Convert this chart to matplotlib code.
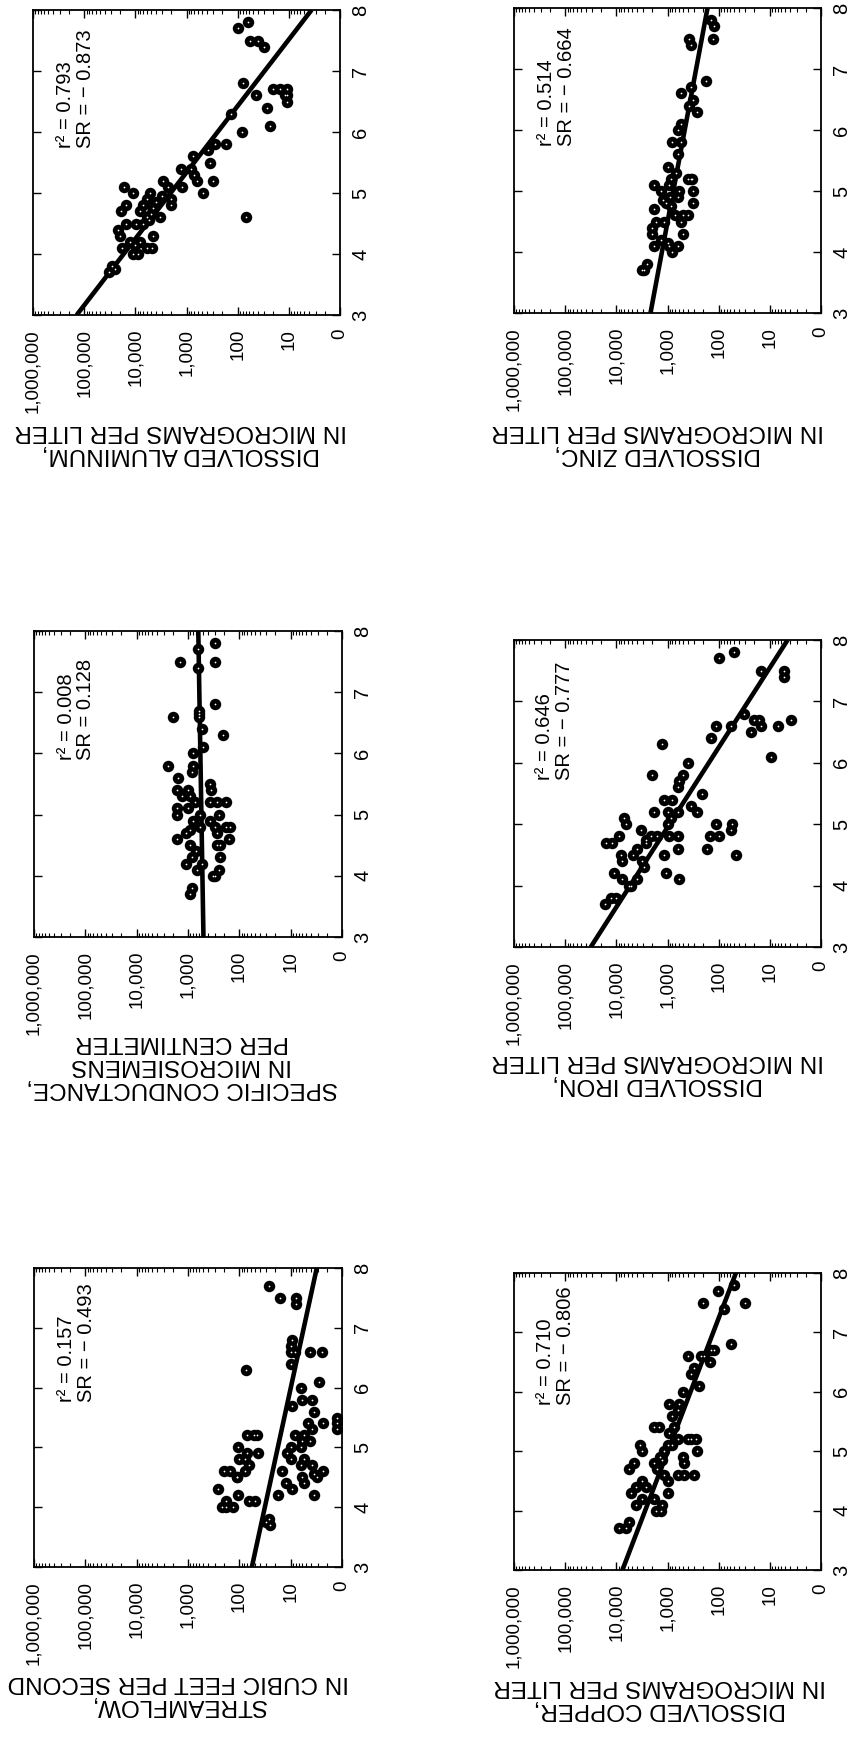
import matplotlib
matplotlib.use('Agg')
import matplotlib.pyplot as plt
from matplotlib.ticker import FixedLocator, LogLocator, NullFormatter

plt.rcParams['font.family'] = ['Liberation Sans', 'DejaVu Sans']

# ---------------- data ----------------
conc_ticks = [1, 10, 100, 1000, 10000, 100000, 1000000]
conc_labels = ['0', '10', '100', '1,000', '10,000', '100,000', '1,000,000']
ph_ticks = [3, 4, 5, 6, 7, 8]
ph_labels = ['3', '4', '5', '6', '7', '8']
line_ph = [3.0, 8.0]

al_ph = [7.8, 7.7, 7.5, 7.5, 7.4, 6.8, 6.7, 6.7, 6.7, 6.6, 6.5, 6.6, 6.6, 6.4, 6.1, 6.3, 6.0, 5.8,
         5.8, 5.7, 5.5, 5.6, 5.2, 5.0, 5.2, 5.3, 5.4, 5.4, 5.1, 4.9, 4.8, 5.2, 5.1, 4.6, 4.75, 5.0,
         4.9, 4.8, 4.7, 4.3, 4.1, 4.1, 4.0, 5.0, 5.1, 4.8, 4.7, 4.5, 4.5, 4.4, 4.3, 4.2, 4.1, 4.15,
         3.8, 3.75, 3.7, 4.6, 4.5, 4.85, 4.95, 4.65, 4.55, 4.2, 4.0, 4.6]
al_val = [62, 97, 57, 40, 30, 80, 20, 15, 11, 11, 11, 12, 43, 27, 23, 132, 83, 166,
          280, 380, 355, 740, 300, 470, 630, 700, 800, 1260, 1200, 2000, 2000, 2900, 2300, 3300, 4500, 5200,
          6000, 7000, 8000, 4500, 4800, 6000, 9000, 11000, 17000, 15000, 19000, 15000, 9500, 22000, 20000, 12600, 18600, 10000,
          29000, 25000, 32000, 6000, 7000, 4000, 3000, 5000, 5500, 8000, 11000, 70]
al_line = [140000, 3.6]
al_stats = 'r\u00b2 = 0.793\nSR = \u2212 0.873'

zn_ph = [7.8, 7.7, 7.5, 7.5, 7.4, 6.8, 6.6, 6.7, 6.5, 6.4, 6.3, 6.1, 6.0, 5.8, 5.8, 5.6, 5.4, 5.3,
         5.2, 5.2, 5.2, 5.2, 5.0, 5.0, 5.1, 4.8, 4.6, 4.6, 4.9, 4.75, 4.8, 5.0, 5.1, 4.85, 4.7, 4.5,
         4.5, 4.5, 4.3, 4.1, 4.0, 4.1, 4.15, 4.2, 4.1, 4.3, 4.4, 3.7, 3.7, 3.8, 4.6, 4.9]
zn_val = [142, 123, 131, 380, 350, 178, 550, 340, 320, 380, 260, 550, 630, 800, 550, 630, 1000, 690,
          330, 350, 400, 850, 320, 590, 930, 320, 400, 500, 630, 850, 1070, 1350, 1800, 1200, 1800, 1700,
          1170, 550, 500, 630, 800, 930, 1000, 1350, 1800, 2000, 2000, 2900, 3100, 2500, 700, 900]
zn_line = [2150, 165]
zn_stats = 'r\u00b2 = 0.514\nSR = \u2212 0.664'

sc_ph = [7.8, 7.7, 7.5, 7.5, 7.4, 6.8, 6.7, 6.65, 6.6, 6.6, 6.4, 6.3, 6.1, 6.0, 5.8, 5.8, 5.7, 5.6,
         5.5, 5.4, 5.4, 5.4, 5.3, 5.3, 5.2, 5.2, 5.2, 5.2, 5.1, 5.0, 5.0, 5.0, 4.9, 4.8, 4.8, 4.8,
         4.8, 4.75, 4.7, 4.7, 4.6, 4.6, 4.5, 4.5, 4.5, 4.4, 4.3, 4.3, 4.2, 4.2, 4.1, 4.1, 4.0, 4.0,
         3.8, 3.7, 4.9, 5.1]
sc_val = [295, 630, 295, 1440, 630, 295, 600, 600, 600, 2000, 540, 204, 500, 800, 2400, 800, 850, 1550,
          370, 350, 1650, 980, 1300, 900, 370, 275, 180, 720, 1650, 250, 1650, 590, 370, 150, 180, 295,
          590, 900, 1070, 275, 160, 1650, 900, 240, 270, 700, 240, 850, 1070, 540, 680, 250, 320, 300,
          850, 900, 800, 1000]
sc_line = [500, 630]
sc_stats = 'r\u00b2 = 0.008\nSR = 0.128'

fe_ph = [7.8, 7.7, 7.5, 7.5, 7.4, 6.8, 6.7, 6.7, 6.7, 6.6, 6.6, 6.6, 6.6, 6.5, 6.4, 6.1, 6.3, 6.0,
         5.8, 5.7, 5.6, 5.8, 5.5, 5.3, 5.2, 5.4, 5.4, 5.2, 5.2, 5.2, 5.1, 5.0, 5.0, 5.0, 4.8, 4.8,
         4.9, 4.6, 4.5, 4.8, 4.8, 4.8, 4.8, 4.5, 4.6, 4.7, 4.75, 4.9, 4.6, 4.5, 4.4, 4.3, 4.1, 4.2,
         4.1, 5.1, 5.0, 4.8, 4.7, 4.7, 4.5, 4.4, 4.2, 4.1, 4.0, 4.0, 3.8, 3.8, 3.7]
fe_val = [50, 98, 15, 5.2, 5.2, 32, 20, 16, 3.9, 15, 7, 58, 112, 23, 140, 9.5, 1260, 400,
          500, 590, 630, 2000, 210, 350, 260, 1170, 800, 1800, 1000, 630, 850, 1000, 112, 54, 98, 150,
          58, 166, 46, 630, 930, 1600, 2100, 1170, 630, 2600, 2600, 3300, 3900, 4800, 3100, 2900, 3900, 1070,
          590, 7000, 6600, 8900, 16000, 12000, 8100, 7600, 11000, 7600, 5600, 5200, 10200, 12600, 17000]
fe_line = [31600, 4.5]
fe_stats = 'r\u00b2 = 0.646\nSR = \u2212 0.777'

sf_ph = [7.7, 7.5, 7.5, 7.4, 6.8, 6.7, 6.6, 6.4, 6.6, 6.6, 6.6, 6.3, 6.1, 6.0, 5.7, 5.8, 5.8, 5.6,
         5.5, 5.4, 5.3, 5.4, 5.4, 5.3, 5.2, 5.2, 5.1, 5.1, 5.0, 5.0, 4.9, 4.8, 4.8, 4.7, 4.7, 4.6,
         4.55, 4.5, 4.5, 4.4, 4.4, 4.3, 4.6, 4.2, 4.2, 5.2, 5.2, 5.2, 4.9, 4.9, 5.0, 4.7, 4.8, 4.8,
         4.6, 4.6, 4.5, 4.5, 4.6, 4.3, 4.2, 4.1, 4.1, 4.1, 4.0, 4.0, 4.0, 3.8, 3.7, 3.75]
sf_val = [27, 16, 8, 8, 9.5, 10, 10, 10, 8.1, 4.2, 2.5, 74, 2.8, 6.3, 9.5, 6, 3.9, 3.5,
          1.26, 1.26, 1.26, 2.3, 4.5, 3.9, 8.1, 5.6, 6, 4.2, 10, 6.3, 11.7, 10, 5.6, 6.3, 3.9, 2.3,
          3.5, 3.1, 6, 5.6, 12.6, 9.5, 14.8, 17.4, 3.5, 52, 45, 71, 43, 71, 104, 66, 100, 79,
          200, 150, 112, 112, 76, 257, 105, 66, 49, 178, 219, 178, 132, 27, 25, 30]
sf_line = [57, 3.1]
sf_stats = 'r\u00b2 = 0.157\nSR = \u2212 0.493'

cu_ph = [7.8, 7.7, 7.5, 7.5, 7.4, 6.8, 6.7, 6.7, 6.5, 6.6, 6.6, 6.6, 6.4, 6.3, 6.1, 6.0, 5.8, 5.8,
         5.7, 5.6, 5.4, 5.4, 5.4, 5.3, 5.2, 5.2, 5.2, 5.2, 5.1, 5.1, 5.0, 5.0, 5.0, 4.9, 4.9, 4.8,
         4.8, 4.8, 4.7, 4.7, 4.6, 4.6, 4.6, 4.6, 4.5, 4.5, 4.4, 4.4, 4.3, 4.3, 4.2, 4.2, 4.1, 4.1,
         4.0, 4.0, 3.8, 3.7, 3.7, 5.1, 4.85]
cu_val = [50, 105, 30, 205, 78, 58, 141, 123, 151, 224, 191, 400, 300, 350, 240, 500, 930, 590,
          630, 800, 1800, 1450, 740, 930, 630, 350, 280, 400, 800, 3500, 260, 3100, 1170, 1400, 500, 470,
          1800, 4500, 5600, 1600, 630, 470, 300, 1170, 1000, 3100, 2600, 4200, 5200, 1000, 3100, 1800, 4200, 1260,
          1700, 1350, 5600, 6600, 8900, 1000, 1300]
cu_line = [7600, 46]
cu_stats = 'r\u00b2 = 0.710\nSR = \u2212 0.806'

# ---------------- layout ----------------
W, H = 848, 1738
fig = plt.figure(figsize=(W / 100, H / 100), dpi=100)


def add_panel(box, ph, val, line_val, stats, text_xy, label, label_xy):
    x0, y0, x1, y1 = box
    ax = fig.add_axes([x0 / W, 1 - y1 / H, (x1 - x0) / W, (y1 - y0) / H])
    ax.set_xscale('log')
    ax.plot(line_val, line_ph, color='black', lw=3.3, solid_capstyle='butt', zorder=2)
    ax.scatter(val, ph, s=68, c='black', linewidths=0, zorder=3)
    ax.scatter(val, ph, s=1.6, c='white', linewidths=0, zorder=4)
    ax.set_xlim(1e6, 1)
    ax.set_ylim(3, 8)
    ax.xaxis.set_major_locator(FixedLocator(conc_ticks))
    ax.set_xticklabels(conc_labels, rotation=90, fontsize=13.5)
    ax.xaxis.set_minor_locator(LogLocator(base=10, subs=range(2, 10), numticks=30))
    ax.xaxis.set_minor_formatter(NullFormatter())
    ax.tick_params(axis='x', which='both', direction='in', top=True, bottom=True)
    ax.tick_params(axis='x', which='major', length=6, width=1, pad=10)
    ax.tick_params(axis='x', which='minor', length=3, width=0.8)
    ax.set_yticks(ph_ticks)
    ax.set_yticklabels(ph_labels, rotation=90, fontsize=14.5, va='center')
    ax.tick_params(axis='y', direction='in', left=True, right=True, labelleft=False,
                   labelright=True, length=6, width=1, pad=8)
    for sp in ax.spines.values():
        sp.set_linewidth(1.3)
    ax.text(text_xy[0], text_xy[1], stats, transform=ax.transAxes, rotation=90,
            ha='center', va='bottom', fontsize=14.5, multialignment='left', linespacing=1.05)
    fig.text(label_xy[0] / W, 1 - label_xy[1] / H, label, rotation=180, ha='center', va='top',
             fontsize=17.5, multialignment='center', linespacing=1.05)
    return ax


add_panel((33, 10, 340, 315), al_ph, al_val, al_line, al_stats, (0.139, 0.546),
          'DISSOLVED ALUMINUM,\nIN MICROGRAMS PER LITER', (181, 420))
add_panel((514, 8, 821, 313), zn_ph, zn_val, zn_line, zn_stats, (0.138, 0.546),
          'DISSOLVED ZINC,\nIN MICROGRAMS PER LITER', (658, 420))
add_panel((34, 631, 342, 937), sc_ph, sc_val, sc_line, sc_stats, (0.136, 0.578),
          'SPECIFIC CONDUCTANCE,\nIN MICROSIEMENS\nPER CENTIMETER', (182, 1031))
add_panel((514, 640, 821, 947), fe_ph, fe_val, fe_line, fe_stats, (0.133, 0.543),
          'DISSOLVED IRON,\nIN MICROGRAMS PER LITER', (658, 1050))
add_panel((34, 1268, 342, 1567), sf_ph, sf_val, sf_line, sf_stats, (0.138, 0.553),
          'STREAMFLOW,\nIN CUBIC FEET PER SECOND', (178, 1671))
add_panel((514, 1273, 821, 1570), cu_ph, cu_val, cu_line, cu_stats, (0.135, 0.555),
          'DISSOLVED COPPER,\nIN MICROGRAMS PER LITER', (660, 1675))

fig.savefig('out.png', dpi=100)
